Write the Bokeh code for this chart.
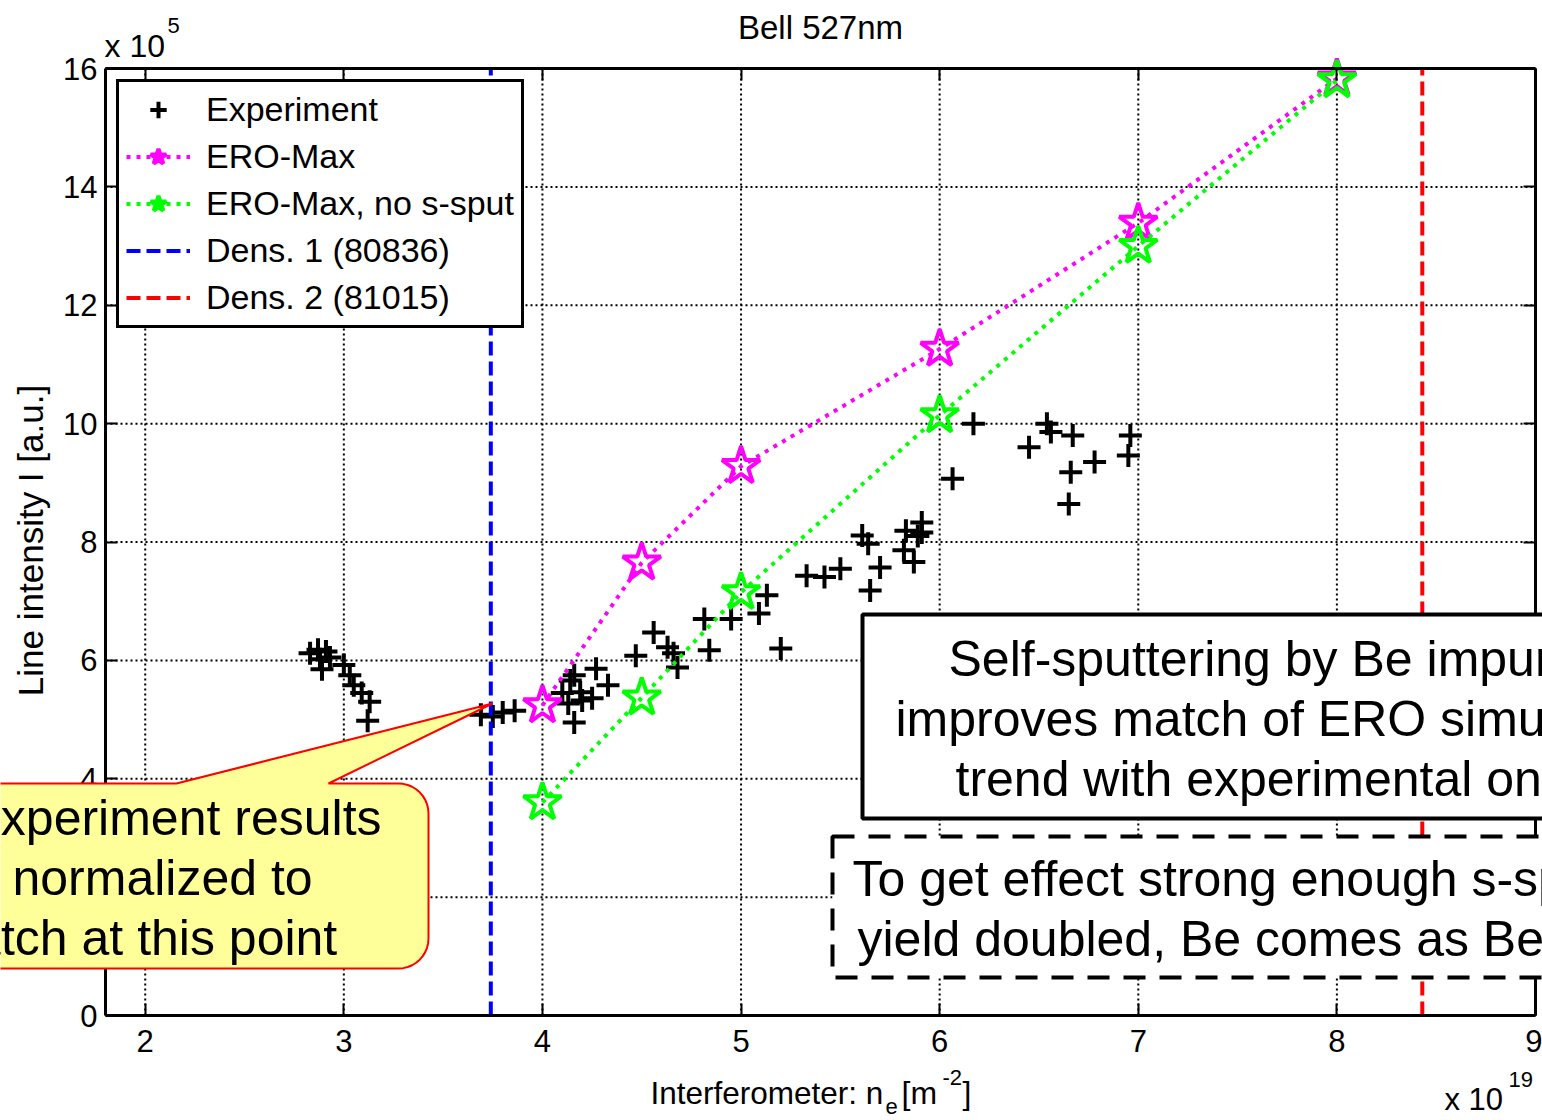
import math
from bokeh.plotting import figure
from bokeh.models import (Range1d, LinearAxis, FixedTicker, Label, Legend, LegendItem,
                          BoxAnnotation, PolyAnnotation, CustomJSTickFormatter)
from bokeh.embed import file_html
from bokeh.resources import INLINE

# ---------------- data (x in 1e19 m^-2, y in 1e5 a.u.) ----------------
exp_x = [2.83, 2.87, 2.91, 2.88, 2.93, 2.89, 3.00, 3.03, 3.05, 3.09, 3.13, 3.12,
         3.69, 3.75, 3.80, 3.86,
         4.10, 4.14, 4.16, 4.13, 4.19, 4.20, 4.16, 4.25, 4.27, 4.33,
         4.47, 4.56, 4.63, 4.66, 4.68, 4.815, 4.84, 4.95, 5.09, 5.13, 5.20,
         5.33, 5.42, 5.50, 5.61, 5.64, 5.65, 5.70, 5.82, 5.83, 5.87, 5.89, 5.91, 5.91,
         6.065, 6.17, 6.45, 6.54, 6.56, 6.67, 6.66, 6.65, 6.78, 6.96, 6.95]
exp_y = [6.12, 6.18, 6.15, 6.02, 6.05, 5.85, 5.92, 5.75, 5.58, 5.45, 5.30, 4.98,
         5.08, 5.05, 5.12, 5.15,
         5.45, 5.66, 5.75, 5.27, 5.46, 5.32, 4.95, 5.36, 5.86, 5.58,
         6.08, 6.47, 6.22, 6.12, 5.88, 6.70, 6.17, 6.70, 6.79, 7.10, 6.20,
         7.43, 7.41, 7.55, 8.11, 7.97, 7.18, 7.57, 7.86, 8.19, 7.66, 8.10, 8.33, 8.16,
         9.07, 10.0, 9.60, 10.0, 9.86, 9.80, 9.18, 8.64, 9.35, 9.80, 9.46]
ero_x = [4.0, 4.5, 5.0, 6.0, 7.0, 8.0]
ero_max = [5.24, 7.65, 9.28, 11.26, 13.39, 15.83]
ero_nosput = [3.60, 5.37, 7.15, 10.14, 13.00, 15.80]
dens1_x = 3.74
dens2_x = 8.43
x_ticks = [2, 3, 4, 5, 6, 7, 8, 9]
y_ticks = [0, 2, 4, 6, 8, 10, 12, 14, 16]
x_lim = (1.8, 9.0)
y_lim = (0.0, 16.0)

FONT = "Liberation Sans"
W, H = 1542, 1120
# plot box in canvas pixels
L, R, T, B = 105, 1535, 68, 1015
kx = (R - L) / (x_lim[1] - x_lim[0])
ky = (B - T) / (y_lim[1] - y_lim[0])
# the frame covers the whole canvas so texts may sit outside the plot box
xr = Range1d(x_lim[0] - L / kx, x_lim[1] + (W - R) / kx)
yr = Range1d(y_lim[0] - (H - B) / ky, y_lim[1] + T / ky)

p = figure(width=W, height=H, x_range=xr, y_range=yr,
           output_backend="svg", toolbar_location=None,
           min_border=0, min_border_left=0, min_border_right=0,
           min_border_top=0, min_border_bottom=0,
           background_fill_color="white", border_fill_color="white")
p.outline_line_color = None
p.title.visible = False
p.xgrid.visible = False
p.ygrid.visible = False

blank = CustomJSTickFormatter(code="return ''")


def style_axis(ax, ticks, loc, bounds, labels=True):
    ax.ticker = FixedTicker(ticks=ticks)
    ax.fixed_location = loc
    ax.bounds = bounds
    ax.axis_line_color = "black"
    ax.axis_line_width = 3
    ax.major_tick_in = 12
    ax.major_tick_out = 0
    ax.major_tick_line_width = 2
    ax.minor_tick_line_color = None
    ax.major_label_text_font = FONT
    ax.major_label_text_font_size = "31px"
    ax.major_label_text_color = "black"
    if not labels:
        ax.formatter = blank
        ax.major_label_text_font_size = "1px"


# grid (dotted) drawn first
nx, ny = len(x_ticks), len(y_ticks)
p.segment(x0=x_ticks, y0=[y_lim[0]] * nx, x1=x_ticks, y1=[y_lim[1]] * nx,
          line_color="black", line_width=2, line_dash="2 3")
p.segment(x0=[x_lim[0]] * ny, y0=y_ticks, x1=[x_lim[1]] * ny, y1=y_ticks,
          line_color="black", line_width=2, line_dash="2 3")

style_axis(p.xaxis[0], x_ticks, y_lim[0], x_lim)
style_axis(p.yaxis[0], y_ticks, x_lim[0], y_lim)
p.xaxis[0].major_label_standoff = 14
p.yaxis[0].major_label_standoff = 8
top_ax = LinearAxis()
style_axis(top_ax, x_ticks, y_lim[1], x_lim, labels=False)
p.add_layout(top_ax, "above")
right_ax = LinearAxis()
style_axis(right_ax, y_ticks, x_lim[1], y_lim, labels=False)
p.add_layout(right_ax, "right")

# ---------------- series ----------------
r_exp = p.scatter(exp_x, exp_y, marker="cross", size=23, line_width=4, line_color="black")
l_m = p.line(ero_x, ero_max, line_color="#FF00FF", line_width=4, line_dash="4 6")
s_m = p.scatter(ero_x, ero_max, marker="star", size=40, fill_color=None,
                line_color="#FF00FF", line_width=4)
l_g = p.line(ero_x, ero_nosput, line_color="#00FF00", line_width=4, line_dash="4 6")
s_g = p.scatter(ero_x, ero_nosput, marker="star", size=40, fill_color=None,
                line_color="#00FF00", line_width=4)
d1 = p.line([dens1_x, dens1_x], [y_lim[0], y_lim[1]], line_color="#0000FF", line_width=4,
            line_dash="14 6")
d2 = p.line([dens2_x, dens2_x], [y_lim[0], y_lim[1]], line_color="#FF0000", line_width=4,
            line_dash="14 6")

LEG_H = 247
legend = Legend(items=[
    LegendItem(label="Experiment", renderers=[r_exp]),
    LegendItem(label="ERO-Max", renderers=[l_m, s_m]),
    LegendItem(label="ERO-Max, no s-sput", renderers=[l_g, s_g]),
    LegendItem(label="Dens. 1 (80836)", renderers=[d1]),
    LegendItem(label="Dens. 2 (81015)", renderers=[d2]),
], location=(116, H - 81 - LEG_H), glyph_width=64, glyph_height=41, label_height=41,
    spacing=6, padding=7, margin=0, label_standoff=16,
    label_text_font=FONT, label_text_font_size="34px", label_text_color="black",
    border_line_color="black", border_line_width=3, border_line_alpha=1,
    background_fill_color="white", background_fill_alpha=1)
p.add_layout(legend)


# ---------------- texts (screen units: canvas pixels, y measured from the bottom) -------
def lab(text, x, y, size, align="left", baseline="middle", angle=0.0, level="annotation"):
    p.add_layout(Label(text=text, x=x, y=H - y, x_units="screen", y_units="screen",
                       text_font=FONT, text_font_size=size, text_color="black",
                       text_align=align, text_baseline=baseline, angle=angle, level=level))


lab("Bell 527nm", 820, 27, "33px", align="center")
lab("Line intensity I [a.u.]", 30, 540, "35px", align="center", angle=math.pi / 2)
lab("Interferometer: n", 650, 1092, "31.5px")
lab("e", 885, 1106, "22px")
lab("[m", 901, 1092, "32px")
lab("-2", 942, 1077, "22px")
lab("]", 962, 1092, "32px")
lab("x 10", 104, 45, "32px")
lab("5", 167, 25, "22px")
lab("x 10", 1444, 1099, "31px")
lab("19", 1508, 1079, "22px")


# ---------------- annotation boxes ----------------
def dx(px):
    return x_lim[0] + (px - L) / kx


def dy(py):
    return y_lim[0] + (B - py) / ky


p.add_layout(BoxAnnotation(left=dx(862), right=dx(1800), top=dy(614), bottom=dy(818),
                           fill_color="white", fill_alpha=1, line_color="black",
                           line_width=4, line_alpha=1, level="overlay"))
p.add_layout(BoxAnnotation(left=dx(832), right=dx(1800), top=dy(836), bottom=dy(977),
                           fill_color="white", fill_alpha=1, line_color="black",
                           line_width=4, line_alpha=1, line_dash="22 14", level="overlay"))

# callout with rounded corners and pointer
cl, cr, ct, cb, rad = -80, 428, 783, 968, 30
tip = (492, 703)
pts = [(cl + rad, ct), (176, ct), tip, (328, ct), (cr - rad, ct)]


def arc(cx, cy, a0, a1, n=10):
    return [(cx + rad * math.cos(math.radians(a0 + (a1 - a0) * i / n)),
             cy + rad * math.sin(math.radians(a0 + (a1 - a0) * i / n))) for i in range(n + 1)]


pts += arc(cr - rad, ct + rad, -90, 0)
pts += arc(cr - rad, cb - rad, 0, 90)
pts += arc(cl + rad, cb - rad, 90, 180)
pts += arc(cl + rad, ct + rad, 180, 270)
p.add_layout(PolyAnnotation(xs=[dx(a) for a, _ in pts], ys=[dy(b) for _, b in pts],
                            fill_color="#FFFF99", fill_alpha=1, line_color="#FF0000",
                            line_width=2, line_alpha=1, level="overlay"))

lab("Self-sputtering by Be impurities", 948, 658, "50px", level="overlay")
lab("improves match of ERO simulations", 895, 718, "50px", level="overlay")
lab("trend with experimental one", 955, 778, "50px", level="overlay")
lab("To get effect strong enough s-sputtering", 852, 878, "50px", level="overlay")
lab("yield doubled, Be comes as Be+", 857, 938, "50px", level="overlay")
lab("Experiment results", -33, 817, "50px", level="overlay")
lab("normalized to", 12, 877, "50px", level="overlay")
lab("match at this point", -69, 937, "50px", level="overlay")

open("out.html", "w").write(file_html(p, INLINE))
